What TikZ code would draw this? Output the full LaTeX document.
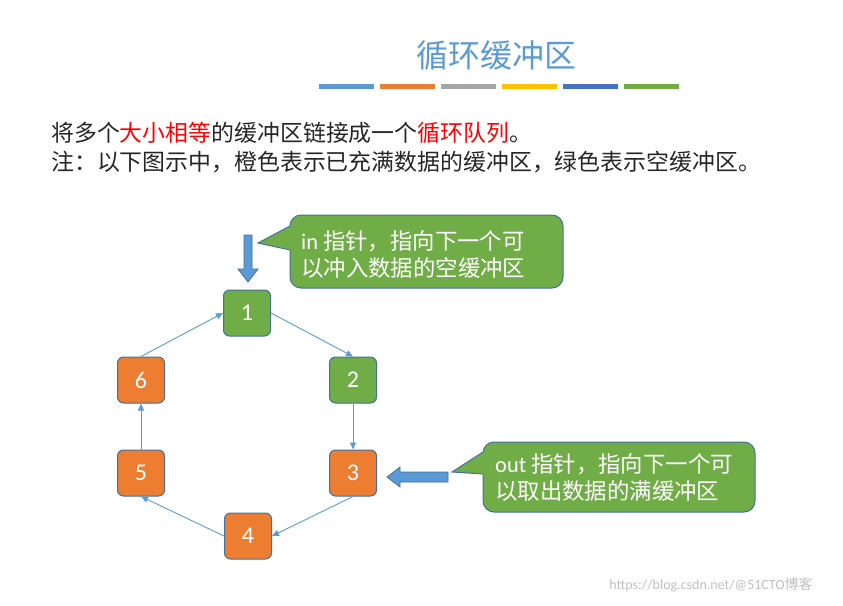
\documentclass[tikz,border=0pt]{standalone}
\usepackage{fontspec}
\setmainfont{Carlito}
\newfontfamily\cjk{Noto Sans CJK SC}
\usetikzlibrary{arrows.meta}
\definecolor{pptblue}{HTML}{5B9BD5}
\definecolor{pptorange}{HTML}{ED7D31}
\definecolor{pptgray}{HTML}{A5A5A5}
\definecolor{pptgold}{HTML}{FFC000}
\definecolor{pptdblue}{HTML}{4472C4}
\definecolor{pptgreen}{HTML}{70AD47}
\definecolor{pptedge}{HTML}{41719C}
\definecolor{pptred}{HTML}{FF0000}

\tikzset{
	buf/.style={draw=pptedge, line width=1pt, rounded corners=6pt, minimum width=47pt, minimum height=46pt, text=white, font=\fontsize{24}{24}\selectfont},
	fullbuf/.style={buf, fill=pptorange},
	freebuf/.style={buf, fill=pptgreen},
	link/.style={pptblue, line width=0.9pt, -{Triangle[length=7pt,width=6pt]}},
	callout/.style={fill=pptgreen, draw=pptedge, line width=1pt, rounded corners=11pt},
	bigarrow/.style={fill=pptblue, draw=pptedge, line width=0.8pt},
	bodytext/.style={anchor=west, inner sep=0pt, text=black!85, font=\fontsize{22.9}{26}\selectfont\cjk},
	tiptext/.style={anchor=west, inner sep=0pt, text=white, align=left, font=\fontsize{22.4}{27}\selectfont}
}

\begin{document}
\begin{tikzpicture}[x=1pt, y=-1pt]
		%%%%% START %%%%%
		\useasboundingbox (0,0) rectangle (843,605);
		
		% title and bars
		\node[text=pptblue, font=\fontsize{32}{32}\selectfont\cjk] (title) at (496,55) {循环缓冲区};
		\foreach \c [count=\i from 0] in {pptblue,pptorange,pptgray,pptgold,pptdblue,pptgreen}
			\fill[\c] ({319+\i*61},84) rectangle ({374+\i*61},89);
		
		\node[bodytext] (intro) at (51,133) {将多个\textcolor{pptred}{大小相等}的缓冲区链接成一个\textcolor{pptred}{循环队列}。};
		\node[bodytext] (note) at (51,162) {注：以下图示中，橙色表示已充满数据的缓冲区，绿色表示空缓冲区。};
		
		% the ring of buffers
		\node[freebuf] (b1) at (247,313) {1};
		\node[freebuf] (b2) at (353,380) {2};
		\node[fullbuf] (b3) at (353,473) {3};
		\node[fullbuf] (b4) at (248,536) {4};
		\node[fullbuf] (b5) at (141,473) {5};
		\node[fullbuf] (b6) at (141,380) {6};
		
		\draw[link] (b1.east) -- (b2.north);
		\draw[link] (b2.south) -- (b3.north);
		\draw[link] (b3.south) -- (b4.east);
		\draw[link] (b4.west) -- (b5.south);
		\draw[link] (b5.north) -- (b6.south);
		\draw[link] (b6.north) -- (b1.west);
		
		% in pointer
		\draw[bigarrow] (244,235) -- (252,235) -- (252,269) -- (258,269) -- (248,282) -- (238,269) -- (244,269) -- cycle;
		\draw[callout] (290,215) rectangle (563,288);
		\fill[pptgreen] (292,225) -- (258,243) -- (292,250) -- cycle;
		\draw[pptedge, line width=1pt] (290,226) -- (258,243) -- (290,250);
		\node[tiptext] (intip) at (301,255) {in {\cjk 指针，指向下一个可}\\{\cjk 以冲入数据的空缓冲区}};
		
		% out pointer
		\draw[bigarrow] (448,472) -- (400,472) -- (400,467) -- (387,477) -- (400,487) -- (400,482) -- (448,482) -- cycle;
		\draw[callout] (483,442) rectangle (755,512);
		\fill[pptgreen] (485,451) -- (452,472) -- (485,474) -- cycle;
		\draw[pptedge, line width=1pt] (483,452) -- (452,472) -- (483,474);
		\node[tiptext] (outtip) at (495,478) {out {\cjk 指针，指向下一个可}\\{\cjk 以取出数据的满缓冲区}};
		
		\node[text=black!25, font=\fontsize{14}{14}\selectfont] (mark) at (711,585) {https://blog.csdn.net/@51CTO{\cjk 博客}};
		%%%%% END %%%%%
\end{tikzpicture}
\end{document}
